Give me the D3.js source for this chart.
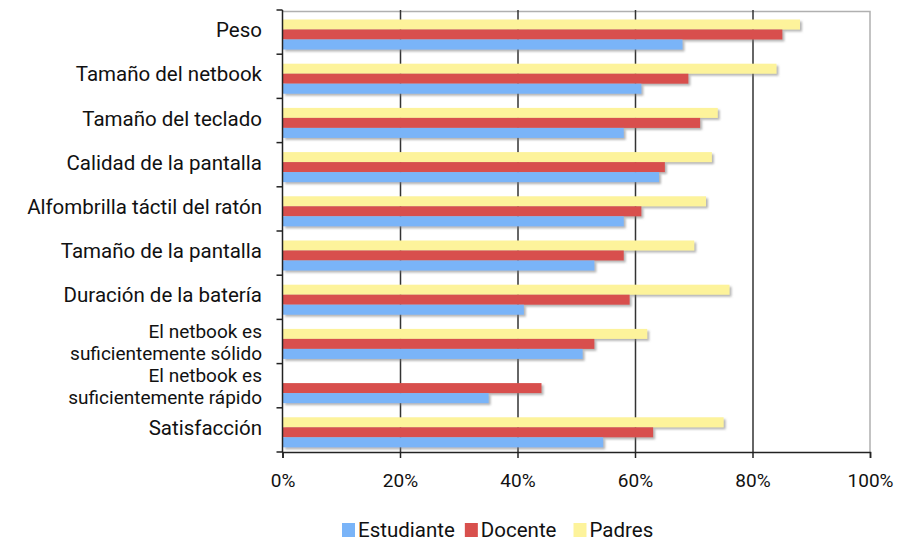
<!DOCTYPE html>
<html>
<head>
<meta charset="utf-8">
<script src="https://cdn.jsdelivr.net/npm/d3@7"></script>
<style>
  body { margin: 0; background: #fff; }
  text { font-family: Roboto, sans-serif; fill: #111; }
</style>
</head>
<body>
<div id="chart"></div>
<script>
// categories top to bottom, label lines split with "|"
const categories = [
    "Peso",
    "Tamaño del netbook",
    "Tamaño del teclado",
    "Calidad de la pantalla",
    "Alfombrilla táctil del ratón",
    "Tamaño de la pantalla",
    "Duración de la batería",
    "El netbook es|suficientemente sólido",
    "El netbook es|suficientemente rápido",
    "Satisfacción"
];
const seriesNames = ["Padres", "Docente", "Estudiante"];
const legendOrder = ["Estudiante", "Docente", "Padres"];
const padres     = [88, 84, 74, 73, 72, 70, 76, 62, 0, 75];
const docente    = [85, 69, 71, 65, 61, 58, 59, 53, 44, 63];
const estudiante = [68, 61, 58, 64, 58, 53, 41, 51, 35, 54.5];
const xTicks = [0, 20, 40, 60, 80, 100];
const colors = { Estudiante: "#7ab4f8", Docente: "#d8504d", Padres: "#fdf39b" };

function drawChart(divId) {
    const width = 899, height = 541;
    const left = 282.5, right = 870, top = 10, bottom = 452;
    const valuesBySeries = { Padres: padres, Docente: docente, Estudiante: estudiante };

    const svg = d3.select("#" + divId).append("svg").attr("width", width).attr("height", height);

    const defs = svg.append("defs");
    defs.append("filter").attr("id", "shadow").attr("x", "-5%").attr("y", "-50%").attr("width", "120%").attr("height", "250%")
        .append("feDropShadow").attr("dx", 2).attr("dy", 2).attr("stdDeviation", 1)
        .attr("flood-color", "#777").attr("flood-opacity", 0.55);

    const x = d3.scaleLinear().domain([0, 100]).range([left, right]);
    const y = d3.scaleBand().domain(categories).range([top, bottom]);
    const ySeries = d3.scaleBand().domain(seriesNames).range([9.5, 39.5]);

    // plot frame (light) on top and right
    svg.append("path").attr("d", `M${left},${top + 1.5}H${right}V${bottom}`)
        .attr("fill", "none").attr("stroke", "#b0b0b0").attr("stroke-width", 1.5);

    // vertical gridlines
    svg.append("g").attr("transform", `translate(0,${bottom})`)
        .call(d3.axisBottom(x).tickValues(xTicks.slice(1, -1)).tickSize(-(bottom - top)).tickFormat(""))
        .call(g => g.select(".domain").remove())
        .call(g => g.selectAll("line").attr("stroke", "#333").attr("stroke-width", 1.5));

    // bars
    const rows = [];
    categories.forEach((c, i) => {
        seriesNames.forEach(s => rows.push({ category: c, series: s, value: valuesBySeries[s][i] }));
    });
    svg.append("g").selectAll("rect").data(rows.filter(d => d.value > 0)).join("rect")
        .attr("x", x(0) + 0.5)
        .attr("y", d => y(d.category) + ySeries(d.series))
        .attr("width", d => x(d.value) - x(0))
        .attr("height", ySeries.bandwidth())
        .attr("fill", d => colors[d.series])
        .attr("filter", "url(#shadow)");

    // x axis
    svg.append("g").attr("transform", `translate(0,${bottom})`)
        .call(d3.axisBottom(x).tickValues(xTicks).tickSize(6).tickPadding(16).tickFormat(d => d + "%"))
        .call(g => g.select(".domain").attr("stroke", "#222").attr("stroke-width", 1.5))
        .call(g => g.selectAll("line").attr("stroke", "#222").attr("stroke-width", 1.5))
        .call(g => g.selectAll("text").attr("font-size", 19).attr("font-family", "Roboto").attr("fill", "#111"));

    // y axis line and boundary ticks
    const yAxis = svg.append("g");
    yAxis.append("line").attr("x1", left).attr("x2", left).attr("y1", top).attr("y2", bottom)
        .attr("stroke", "#222").attr("stroke-width", 1.5);
    yAxis.selectAll("line.tick").data(categories.map(c => y(c)).concat([bottom])).join("line")
        .attr("class", "tick")
        .attr("x1", left - 6).attr("x2", left).attr("y1", d => d).attr("y2", d => d)
        .attr("stroke", "#222").attr("stroke-width", 1.5);

    // category labels (two-line ones a bit smaller so they fit the band)
    const labels = svg.append("g").selectAll("text").data(categories).join("text")
        .attr("x", 262)
        .attr("text-anchor", "end")
        .attr("font-size", c => c.includes("|") ? 19 : 20.5);
    labels.each(function(c) {
        const lines = c.split("|");
        const cy = y(c) + y.bandwidth() / 2;
        d3.select(this).selectAll("tspan").data(lines).join("tspan")
            .attr("x", 262)
            .attr("y", (d, i) => lines.length > 1 ? cy - 3.3 + i * 21.5 : cy + 5)
            .text(d => d);
    });

    // legend
    const legend = svg.append("g").attr("transform", "translate(342,537)");
    let lx = 0;
    legendOrder.forEach((s, i) => {
        legend.append("rect").attr("x", lx).attr("y", -14).attr("width", 13).attr("height", 14).attr("fill", colors[s]);
        const t = legend.append("text").attr("x", lx + 16).attr("y", 0).attr("font-size", 20.5).text(s);
        lx += 16 + t.node().getComputedTextLength() + (i === 0 ? 10 : 17);
    });
}

drawChart("chart");
</script>
</body>
</html>
